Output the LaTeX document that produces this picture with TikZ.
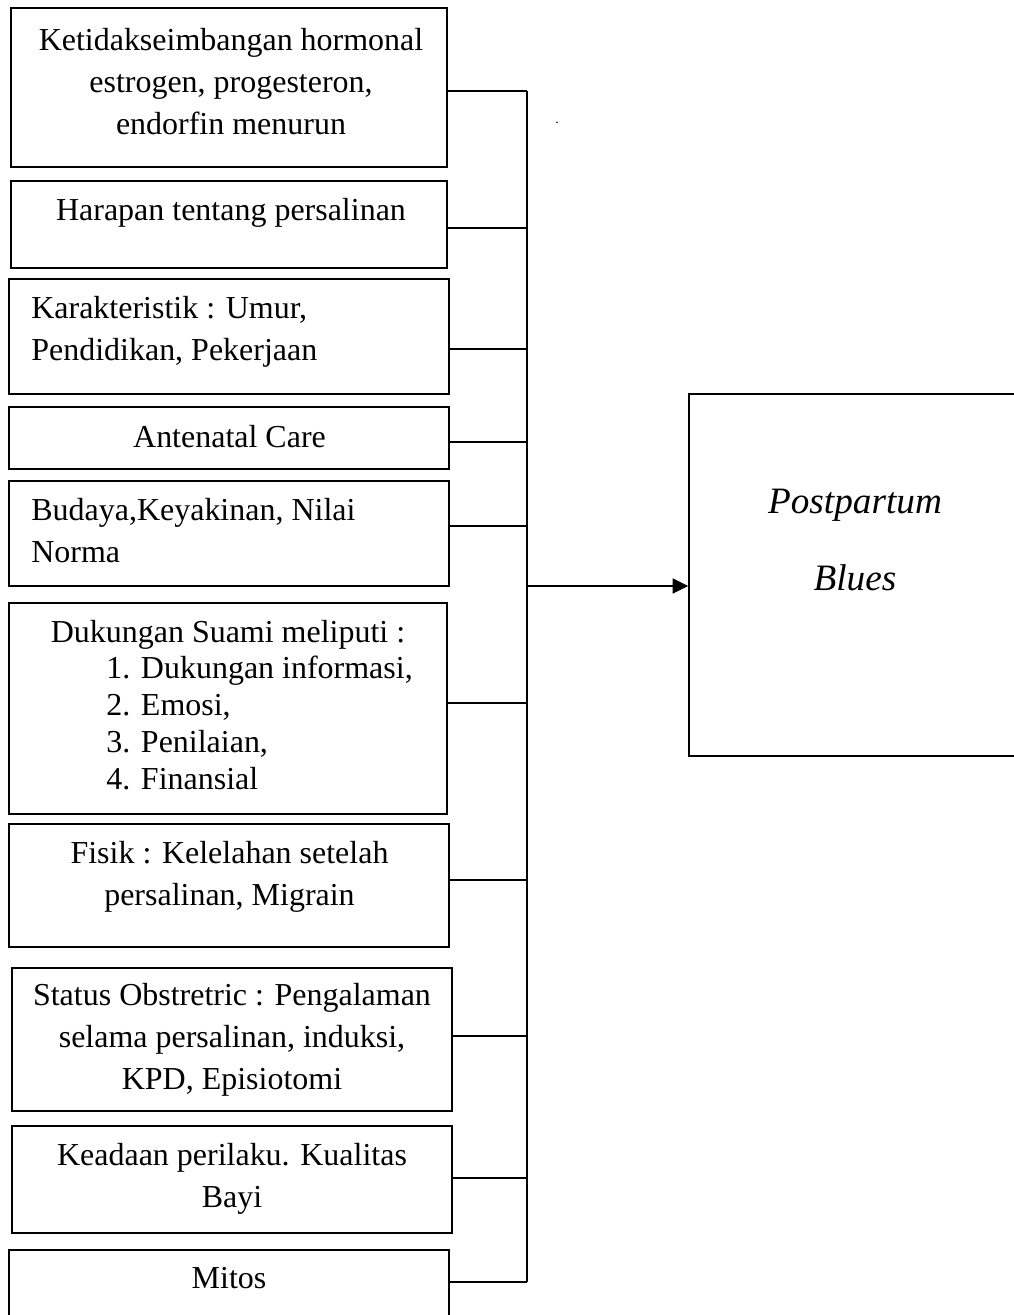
\documentclass[tikz,border=0pt]{standalone}
\usepackage{fontspec}
\setmainfont{Liberation Serif}
\usetikzlibrary{arrows.meta}
\newcommand{\tstrut}[1][16.7pt]{\rule{0pt}{#1}}
\begin{document}
\begin{tikzpicture}[x=0.02cm,y=-0.02cm,
  box/.style={draw,line width=1pt,inner sep=0pt},
  link/.style={line width=1pt},
  arr/.style={line width=1pt,-{Triangle[length=0.31cm,width=0.3cm]}},
  txt/.style={inner sep=0pt,align=center,font=\fontsize{18.2pt}{23.9pt}\selectfont},
  lefttxt/.style={txt,align=left,anchor=north west},
  listtxt/.style={lefttxt,font=\fontsize{18.2pt}{21pt}\selectfont},
  outtxt/.style={txt,font=\fontsize{21.2pt}{43.8pt}\selectfont\itshape}]
\useasboundingbox (0,0) rectangle (1014,1315);
\clip (0,0) rectangle (1014,1315);

\node[box,minimum width=8.72cm,minimum height=3.18cm] (b1) at (229,87.5) {};
\node[box,minimum width=8.72cm,minimum height=1.74cm] (b2) at (229,224.5) {};
\node[box,minimum width=8.8cm,minimum height=2.3cm] (b3) at (229,336.5) {};
\node[box,minimum width=8.8cm,minimum height=1.24cm] (b4) at (229,438) {};
\node[box,minimum width=8.8cm,minimum height=2.1cm] (b5) at (229,533.5) {};
\node[box,minimum width=8.76cm,minimum height=4.22cm] (b6) at (228,708.5) {};
\node[box,minimum width=8.8cm,minimum height=2.46cm] (b7) at (229,885.5) {};
\node[box,minimum width=8.8cm,minimum height=2.86cm] (b8) at (232,1039.5) {};
\node[box,minimum width=8.8cm,minimum height=2.14cm] (b9) at (232,1179.5) {};
\node[box,minimum width=8.8cm,minimum height=1.8cm] (b10) at (229,1295) {};
\node[box,minimum width=7.02cm,minimum height=7.24cm] (pb) at (864.5,575) {};

\node[txt,anchor=north] (t1) at (231,20.6) {\tstrut Ketidakseimbangan hormonal\\estrogen, progesteron,\\endorfin menurun};
\node[txt,anchor=north] (t2) at (231,190.6) {\tstrut Harapan tentang persalinan};
\node[lefttxt] (t3) at (31,288.6) {\tstrut Karakteristik : Umur,\\Pendidikan, Pekerjaan};
\node[txt,anchor=north] (t4) at (229.5,417.6) {\tstrut Antenatal Care};
\node[lefttxt] (t5) at (31,490.6) {\tstrut Budaya,Keyakinan, Nilai\\Norma};
\node[txt,anchor=north] (t6) at (228,612.6) {\tstrut Dukungan Suami meliputi :};
\node[listtxt] (t6l) at (106,652.2) {\tstrut[14.7pt]1. Dukungan informasi,\\2. Emosi,\\3. Penilaian,\\4. Finansial};
\node[txt,anchor=north] (t7) at (229.5,833.6) {\tstrut Fisik : Kelelahan setelah\\persalinan, Migrain};
\node[txt,anchor=north] (t8) at (232,975.6) {\tstrut Status Obstretric : Pengalaman\\selama persalinan, induksi,\\KPD, Episiotomi};
\node[txt,anchor=north] (t9) at (232,1135.6) {\tstrut Keadaan perilaku. Kualitas\\Bayi};
\node[txt,anchor=north] (t10) at (229,1258.6) {\tstrut Mitos};
\node[outtxt,anchor=north] (pbt) at (855,459) {\tstrut[30.7pt]Postpartum\\Blues};
\node[inner sep=0pt,anchor=base,font=\fontsize{8pt}{9pt}\selectfont] (dot) at (557,123) {.};

\coordinate (bus) at (527,0);
\foreach \n/\d in {b1/-0.07,b2/-0.07,b3/-0.25,b4/-0.08,b5/0.15,b6/0.11,b7/0.11,b8/0.07,b9/0.03,b10/0.26}
  \draw[link] ([yshift=\d cm]\n.east) coordinate (e-\n) -- (e-\n -| bus);
\draw[link] (e-b1 -| bus) -- (e-b10 -| bus);

\coordinate (split) at (527,586);
\draw[arr] (split) -- (split -| pb.west);
\end{tikzpicture}
\end{document}
